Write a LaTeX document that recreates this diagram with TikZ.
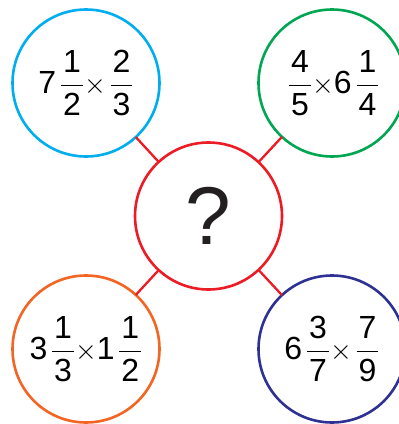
\documentclass[tikz,border=0pt]{standalone}
\usepackage{fix-cm}
\usepackage{amsmath}
\usepackage{fontspec}
\setmainfont{Liberation Sans}
\usepackage{tikz}
\usetikzlibrary{positioning}

\definecolor{skyc}{RGB}{0,174,239}
\definecolor{leafc}{RGB}{0,166,81}
\definecolor{redc}{RGB}{237,28,36}
\definecolor{orangec}{RGB}{242,101,34}
\definecolor{navyc}{RGB}{46,49,146}
\definecolor{inkc}{RGB}{35,31,32}

\newcommand{\fr}[2]{\mkern2mu\dfrac{\text{\kern2pt#1\kern2pt}}{\text{\kern2pt#2\kern2pt}}}
\newcommand{\mul}{\text{\fontsize{28}{28}\selectfont$\times$}}
\newcommand{\task}[1]{\raisebox{-3pt}{$#1$}}

\begin{document}
\begin{tikzpicture}[x=1pt, y=-1pt,
    ball/.style={circle, draw=#1, line width=2.6pt, fill=white, minimum size=147pt, inner sep=0pt, outer sep=0pt, font=\fontsize{32}{38}\selectfont},
    line/.style={draw, redc, line width=2.3pt}]
    \useasboundingbox (0,0) rectangle (399,424);

    \node [ball=redc, font=\fontsize{82}{90}\selectfont, text=inkc] (q) at (208.5,216) {?};
    \node [ball=skyc] (tl) at (86,83) {\task{\text{7}\fr{1}{2}\mul\fr{2}{3}}};
    \node [ball=leafc] (tr) at (332,83) {\task{\fr{4}{5}\mul\text{6}\fr{1}{4}}};
    \node [ball=orangec] (bl) at (86,349) {\task{\text{3}\fr{1}{3}\mul\text{1}\fr{1}{2}}};
    \node [ball=navyc] (br) at (332,349) {\task{\text{6}\fr{3}{7}\mul\fr{7}{9}}};

    \path [line] (tl) -- (q);
    \path [line] (tr) -- (q);
    \path [line] (bl) -- (q);
    \path [line] (br) -- (q);
\end{tikzpicture}
\end{document}
